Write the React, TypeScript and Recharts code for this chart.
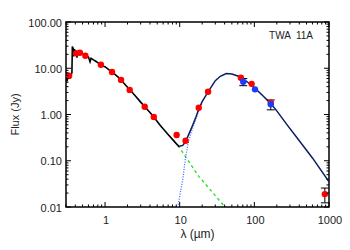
import React from 'react';
import { ComposedChart, Line, Scatter, XAxis, YAxis, ErrorBar, Label, ReferenceArea } from 'recharts';

// wavelength (um) / flux (Jy) pairs
const spectrum: [number, number][] = [
  [0.3, 5.5], [0.305, 8.0], [0.31, 5.2], [0.315, 7.0], [0.32, 5.8], [0.33, 7.4], [0.34, 6.0],
  [0.35, 7.2], [0.36, 8.0], [0.365, 30], [0.37, 21], [0.375, 28], [0.38, 18], [0.39, 26],
  [0.4, 19], [0.41, 24], [0.42, 17], [0.43, 22], [0.45, 21], [0.47, 23], [0.5, 21],
  [0.55, 18.7], [0.6, 17.5], [0.63, 13.8], [0.65, 16.5], [0.7, 15.2], [0.76, 14.0],
  [0.8, 13.2], [0.85, 12.2], [0.9, 11.8], [0.95, 11.0], [1.0, 10.8], [1.1, 9.6],
  [1.25, 8.2], [1.5, 6.4], [1.65, 5.5], [2.0, 3.9], [2.2, 3.3], [2.5, 2.6], [3.0, 1.85],
  [3.5, 1.4], [4.0, 1.1], [4.5, 0.88], [5.0, 0.71], [5.5, 0.58], [6.0, 0.49], [7.0, 0.37],
  [8.0, 0.29], [9.0, 0.235], [9.9, 0.2],
];

const photosphere: [number, number][] = [[9.5, 0.215], [18, 0.046], [40, 0.0102]];

const dust: [number, number][] = [
  [9.45, 0.01], [10, 0.017], [11, 0.04], [12, 0.12], [13, 0.24], [14, 0.38],
  [15, 0.52], [16.5, 0.8], [18, 1.2], [20, 1.8],
];

const total: [number, number][] = [
  [9.9, 0.205], [11, 0.215], [12, 0.26], [13, 0.35], [14, 0.46], [15, 0.6], [16.5, 0.88],
  [18, 1.3], [20, 1.9], [24, 3.1], [30, 5.4], [35, 6.7], [42, 7.7], [50, 7.5], [60, 6.8],
  [70, 5.9], [80, 5.1], [100, 3.8], [130, 2.55], [166, 1.72], [200, 1.2], [270, 0.62],
  [400, 0.27], [600, 0.115], [1000, 0.035],
];

// photometry: wavelength, flux, error
const redPoints: [number, number, number][] = [
  [0.33, 6.9, 0], [0.41, 21, 0], [0.46, 21.7, 0], [0.545, 18.7, 0], [0.88, 11.9, 0],
  [1.24, 8.3, 0], [1.64, 5.6, 0], [2.14, 3.4, 0], [3.4, 1.47, 0], [4.5, 0.88, 0],
  [9.1, 0.36, 0], [12, 0.27, 0], [18, 1.4, 0], [24, 3.1, 0], [66, 6.25, 0],
  [92, 4.6, 0], [166, 1.8, 0], [880, 0.019, 0.0067],
];
const bluePoints: [number, number, number][] = [[71, 5.1, 0.9], [102, 3.5, 0], [166, 1.66, 0.4]];

const xMajor = [1, 10, 100, 1000];
const yMajor = [0.01, 0.1, 1, 10, 100];
const steps = [2, 3, 4, 5, 6, 7, 8, 9];
const xTicks = [...[0.3, 0.4, 0.5, 0.6, 0.7, 0.8, 0.9], ...[1, 10, 100].flatMap((d) => steps.map((s) => s * d)), ...xMajor].sort((a, b) => a - b);
const yTicks = [...[0.01, 0.1, 1, 10].flatMap((d) => steps.map((s) => s * d)), ...yMajor].sort((a, b) => a - b);

const W = 350;
const H = 250;
const PLOT_LEFT = 66;
const PLOT_RIGHT = 329;
const PLOT_TOP = 22;
const PLOT_BOTTOM = 207;
const X_AXIS_H = 30;
const Y_AXIS_W = 56;
const FONT = '"Liberation Sans", Arial, sans-serif';

const toXY = (arr: [number, number][]) => arr.map(([x, y]) => ({ x, y }));
const toPts = (arr: [number, number, number][]) => arr.map(([x, y, err]) => ({ x, y, err }));

const XTick = (props: any) => {
  const { x, payload } = props;
  const major = xMajor.includes(payload.value);
  const len = major ? 5 : 2.5;
  return (
    <g>
      <line x1={x} x2={x} y1={PLOT_BOTTOM} y2={PLOT_BOTTOM - len} stroke="#000" />
      <line x1={x} x2={x} y1={PLOT_TOP} y2={PLOT_TOP + len} stroke="#000" />
      {major && (
        <text x={x + 1} y={PLOT_BOTTOM + 17} textAnchor="middle" fontSize={11} fontFamily={FONT} fill="#222">
          {payload.value}
        </text>
      )}
    </g>
  );
};

const YTick = (props: any) => {
  const { y, payload } = props;
  const major = yMajor.includes(payload.value);
  const len = major ? 5 : 2.5;
  return (
    <g>
      <line x1={PLOT_LEFT} x2={PLOT_LEFT + len} y1={y} y2={y} stroke="#000" />
      <line x1={PLOT_RIGHT} x2={PLOT_RIGHT - len} y1={y} y2={y} stroke="#000" />
      {major && (
        <text x={PLOT_LEFT - 4} y={y + 4.5} textAnchor="end" fontSize={11} fontFamily={FONT} fill="#222">
          {payload.value.toFixed(2)}
        </text>
      )}
    </g>
  );
};

const dotShape = (color: string) => (p: any) => <circle cx={p.cx} cy={p.cy} r={3.2} fill={color} />;

export default function App() {
  return (
    <div style={{ position: 'fixed', left: 0, top: 0, width: W, height: H, background: '#fff' }}>
      <ComposedChart
        width={W}
        height={H}
        margin={{ top: PLOT_TOP, right: W - PLOT_RIGHT, bottom: H - PLOT_BOTTOM - X_AXIS_H, left: PLOT_LEFT - Y_AXIS_W }}
      >
        <XAxis
          dataKey="x"
          type="number"
          scale="log"
          domain={[0.3, 1000]}
          allowDataOverflow
          ticks={xTicks}
          interval={0}
          tick={XTick}
          tickLine={false}
          axisLine={false}
          height={X_AXIS_H}
        >
          <Label
            content={(p: any) => (
              <text x={p.viewBox.x + p.viewBox.width / 2} y={PLOT_BOTTOM + 31} textAnchor="middle" fontSize={12} fontFamily={FONT} fill="#222">
                λ (µm)
              </text>
            )}
          />
        </XAxis>
        <YAxis
          type="number"
          scale="log"
          domain={[0.01, 100]}
          allowDataOverflow
          ticks={yTicks}
          interval={0}
          tick={YTick}
          tickLine={false}
          axisLine={false}
          width={Y_AXIS_W}
        >
          <Label
            content={(p: any) => {
              const cx = PLOT_LEFT - 47;
              const cy = p.viewBox.y + p.viewBox.height / 2;
              return (
                <text x={cx} y={cy} transform={`rotate(-90 ${cx} ${cy})`} textAnchor="middle" fontSize={11} fontFamily={FONT} fill="#222">
                  Flux (Jy)
                </text>
              );
            }}
          />
        </YAxis>
        <ReferenceArea x1={0.3} x2={1000} y1={0.01} y2={100} fill="none" stroke="#000" strokeWidth={1.5}>
          <Label
            content={(p: any) => (
              <text x={p.viewBox.x + p.viewBox.width - 16} y={p.viewBox.y + 17} textAnchor="end" fontSize={10} fontFamily={FONT} fill="#222" style={{ whiteSpace: 'pre' }}>
                TWA  11A
              </text>
            )}
          />
        </ReferenceArea>
        <Line data={toXY(photosphere)} dataKey="y" stroke="#22dd22" strokeWidth={1.3} strokeDasharray="3 3" dot={false} isAnimationActive={false} />
        <Line data={toXY(dust)} dataKey="y" stroke="#4466ff" strokeWidth={1.3} strokeDasharray="1 1.5" dot={false} isAnimationActive={false} />
        <Line data={toXY(spectrum)} dataKey="y" stroke="#000" strokeWidth={1.6} dot={false} isAnimationActive={false} />
        <Line data={toXY(total)} dataKey="y" stroke="#0b1d66" strokeWidth={1.5} dot={false} isAnimationActive={false} />
        <Scatter data={toPts(redPoints)} dataKey="y" shape={dotShape('#ff0000')} isAnimationActive={false}>
          <ErrorBar dataKey="err" direction="y" width={4} stroke="#000" strokeWidth={1} />
        </Scatter>
        <Scatter data={toPts(bluePoints)} dataKey="y" shape={dotShape('#1a3cff')} isAnimationActive={false}>
          <ErrorBar dataKey="err" direction="y" width={4} stroke="#000" strokeWidth={1} />
        </Scatter>
      </ComposedChart>
    </div>
  );
}
